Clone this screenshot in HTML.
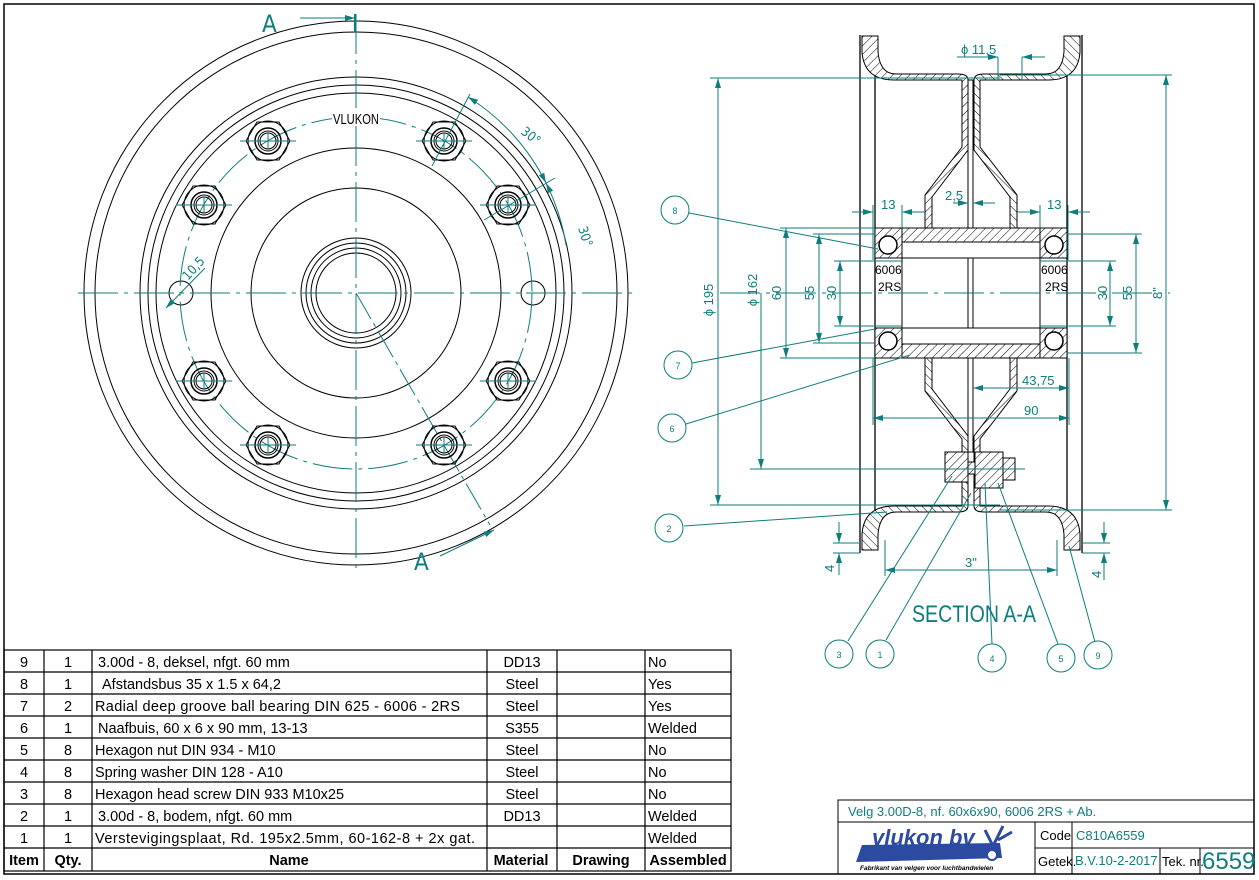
<!DOCTYPE html>
<html><head><meta charset="utf-8"><style>
html,body{margin:0;padding:0;background:#fff}
svg{display:block}
text{font-family:"Liberation Sans",sans-serif}
.t{fill:#0e7d7d;font-family:"DejaVu Sans Condensed","DejaVu Sans",sans-serif}
</style></head><body>
<svg width="1259" height="880" viewBox="0 0 1259 880" xmlns="http://www.w3.org/2000/svg">
<defs>
<pattern id="h" width="6" height="6" patternUnits="userSpaceOnUse" patternTransform="rotate(45)">
<rect width="6" height="6" fill="#fff"/><line x1="0" y1="0" x2="0" y2="6" stroke="#000" stroke-width="1"/></pattern>
<marker id="a" markerWidth="10" markerHeight="6" refX="10" refY="3" orient="auto-start-reverse" markerUnits="userSpaceOnUse"><path d="M0,0 L10,3 L0,6z" fill="#0e7d7d"/></marker>
<g id="bolt">
<polygon points="22,0 11,19 -11,19 -22,0 -11,-19 11,-19" fill="none" stroke="#000" stroke-width="1"/>
<circle r="20" fill="none" stroke="#000"/><circle r="13" fill="none" stroke="#000" stroke-width="1.5"/><circle r="10" fill="none" stroke="#000"/><circle r="8" fill="none" stroke="#000"/>
<line x1="-28" y1="0" x2="28" y2="0" stroke="#0e7d7d"/><line x1="0" y1="-8" x2="0" y2="8" stroke="#0e7d7d"/>
</g>
<g id="rimhalf">
<path d="M862 36 L862 52 Q864 80 894 80 L962 80 L962 147 L925 195 L925 228 L932 228 L932 197 L968 150 L968 80 Q968 74 958 74 L896 74 Q880 74 878 52 L878 36 Z" fill="url(#h)" stroke="#000" stroke-width="1"/>
</g>
</defs>
<rect x="4" y="4" width="1250" height="870" fill="none" stroke="#000" stroke-width="1.5"/>

<!-- FRONT VIEW -->
<g fill="none" stroke="#000" stroke-width="1">
<circle cx="356" cy="293" r="272"/><circle cx="356" cy="293" r="261"/>
<circle cx="356" cy="293" r="216"/><circle cx="356" cy="293" r="208"/><circle cx="356" cy="293" r="200"/>
<circle cx="356" cy="293" r="145"/><circle cx="356" cy="293" r="105"/>
<circle cx="356" cy="293" r="55"/><circle cx="356" cy="293" r="50"/><circle cx="356" cy="293" r="45"/><circle cx="356" cy="293" r="40"/>
<circle cx="181" cy="293" r="12"/><circle cx="533" cy="293" r="12"/>
</g>
<circle cx="356" cy="293" r="176" fill="none" stroke="#0e7d7d" stroke-dasharray="40,6,4,6"/>
<g stroke="#0e7d7d" stroke-width="1" stroke-dasharray="40,6,4,6">
<line x1="78" y1="293" x2="634" y2="293"/><line x1="356" y1="14" x2="356" y2="570"/>
</g>
<line x1="356" y1="293" x2="490" y2="525" stroke="#0e7d7d" stroke-dasharray="30,5,4,5"/>
<use href="#bolt" x="508" y="205"/><use href="#bolt" x="444" y="141"/><use href="#bolt" x="268" y="141"/><use href="#bolt" x="204" y="205"/>
<use href="#bolt" x="204" y="381"/><use href="#bolt" x="268" y="445"/><use href="#bolt" x="444" y="445"/><use href="#bolt" x="508" y="381"/>
<rect x="332" y="108" width="48" height="18" fill="#fff"/>
<text x="356" y="124" font-size="15" text-anchor="middle" font-family="DejaVu Sans Condensed,sans-serif" textLength="46" lengthAdjust="spacingAndGlyphs">VLUKON</text>
<path d="M468 97 A214 214 0 0 1 546 183" fill="none" stroke="#0e7d7d" marker-start="url(#a)" marker-end="url(#a)"/>
<path d="M546 183 A214 214 0 0 1 566 245" fill="none" stroke="#0e7d7d" marker-start="url(#a)"/>
<line x1="470" y1="94" x2="432" y2="166" stroke="#0e7d7d"/>
<line x1="555" y1="178" x2="484" y2="220" stroke="#0e7d7d"/>
<text class="t" x="520" y="133" font-size="13" transform="rotate(38 520 133)">30°</text>
<text class="t" x="578" y="228" font-size="13" transform="rotate(72 578 228)">30°</text>
<line x1="166" y1="308" x2="205" y2="268" stroke="#0e7d7d" marker-start="url(#a)"/>
<text class="t" x="188" y="281" font-size="13" transform="rotate(-48 188 281)">10,5</text>
<line x1="355" y1="14" x2="355" y2="32" stroke="#0e7d7d" stroke-width="2"/>
<line x1="300" y1="18" x2="355" y2="18" stroke="#0e7d7d" marker-end="url(#a)"/>
<text class="t" x="262" y="32" font-size="24">A</text>
<line x1="440" y1="556" x2="494" y2="530" stroke="#0e7d7d" marker-end="url(#a)"/>
<text class="t" x="414" y="570" font-size="24">A</text>

<!-- SECTION VIEW -->
<g stroke="#000" stroke-width="1.3" fill="none">
<line x1="860" y1="35" x2="860" y2="553"/><line x1="875" y1="60" x2="875" y2="530"/>
<line x1="1067" y1="60" x2="1067" y2="530"/><line x1="1082" y1="35" x2="1082" y2="553"/>
</g>
<use href="#rimhalf"/>
<use href="#rimhalf" transform="translate(1942 0) scale(-1 1)"/>
<use href="#rimhalf" transform="translate(0 586) scale(1 -1)"/>
<use href="#rimhalf" transform="translate(1942 586) scale(-1 -1)"/>
<rect x="968" y="80" width="5" height="372" fill="#fff" stroke="#000"/>
<rect x="902" y="228" width="138" height="14" fill="url(#h)" stroke="#000"/>
<rect x="902" y="344" width="138" height="14" fill="url(#h)" stroke="#000"/>
<rect x="902" y="242" width="138" height="16" fill="#fff" stroke="#000"/>
<rect x="902" y="328" width="138" height="16" fill="#fff" stroke="#000"/>
<line x1="902" y1="258" x2="902" y2="328" stroke="#000"/><line x1="1040" y1="258" x2="1040" y2="328" stroke="#000"/>
<g stroke="#000" fill="url(#h)">
<rect x="875" y="228" width="27" height="30"/><rect x="1040" y="228" width="27" height="30"/>
<rect x="875" y="328" width="27" height="30"/><rect x="1040" y="328" width="27" height="30"/>
</g>
<g fill="#fff" stroke="#000" stroke-width="1.5">
<circle cx="888" cy="245" r="9"/><circle cx="1054" cy="245" r="9"/><circle cx="888" cy="341" r="9"/><circle cx="1054" cy="341" r="9"/>
</g>
<text x="875" y="274" font-size="12" font-family="Liberation Serif,serif">6006</text>
<text x="878" y="291" font-size="12" font-family="Liberation Serif,serif">2RS</text>
<text x="1041" y="274" font-size="12" font-family="Liberation Serif,serif">6006</text>
<text x="1045" y="291" font-size="12" font-family="Liberation Serif,serif">2RS</text>
<g stroke="#000" fill="url(#h)">
<rect x="945" y="452" width="23" height="30"/><rect x="975" y="452" width="28" height="36"/><rect x="1003" y="458" width="12" height="22"/>
<rect x="968" y="462" width="7" height="12"/>
</g>
<line x1="720" y1="293" x2="1170" y2="293" stroke="#0e7d7d" stroke-dasharray="40,6,4,6"/>
<line x1="750" y1="469" x2="1025" y2="469" stroke="#0e7d7d"/>
<g stroke="#0e7d7d" fill="none">
<line x1="710" y1="78" x2="1000" y2="78"/><line x1="710" y1="505" x2="1000" y2="505"/>
<line x1="718" y1="78" x2="718" y2="505" marker-start="url(#a)" marker-end="url(#a)"/>
<line x1="761" y1="293" x2="761" y2="469" marker-end="url(#a)"/>
<line x1="780" y1="228" x2="875" y2="228"/><line x1="780" y1="358" x2="875" y2="358"/>
<line x1="786" y1="228" x2="786" y2="358" marker-start="url(#a)" marker-end="url(#a)"/>
<line x1="813" y1="234" x2="875" y2="234"/><line x1="813" y1="343" x2="875" y2="343"/>
<line x1="819" y1="234" x2="819" y2="343" marker-start="url(#a)" marker-end="url(#a)"/>
<line x1="834" y1="261" x2="902" y2="261"/><line x1="834" y1="326" x2="902" y2="326"/>
<line x1="840" y1="261" x2="840" y2="326" marker-start="url(#a)" marker-end="url(#a)"/>
<line x1="1067" y1="234" x2="1142" y2="234"/><line x1="1067" y1="353" x2="1142" y2="353"/>
<line x1="1136" y1="234" x2="1136" y2="353" marker-start="url(#a)" marker-end="url(#a)"/>
<line x1="1040" y1="261" x2="1116" y2="261"/><line x1="1040" y1="326" x2="1116" y2="326"/>
<line x1="1110" y1="261" x2="1110" y2="326" marker-start="url(#a)" marker-end="url(#a)"/>
<line x1="1000" y1="75" x2="1172" y2="75"/><line x1="1000" y1="510" x2="1172" y2="510"/>
<line x1="1166" y1="75" x2="1166" y2="510" marker-start="url(#a)" marker-end="url(#a)"/>
<line x1="873" y1="205" x2="873" y2="260"/><line x1="902" y1="205" x2="902" y2="228"/>
<line x1="852" y1="212" x2="873" y2="212" marker-end="url(#a)"/><line x1="925" y1="212" x2="902" y2="212" marker-end="url(#a)"/>
<line x1="1040" y1="205" x2="1040" y2="228"/><line x1="1068" y1="205" x2="1068" y2="260"/>
<line x1="1017" y1="212" x2="1040" y2="212" marker-end="url(#a)"/><line x1="1090" y1="212" x2="1068" y2="212" marker-end="url(#a)"/>
<line x1="953" y1="203" x2="968" y2="203" marker-end="url(#a)"/><line x1="995" y1="203" x2="973" y2="203" marker-end="url(#a)"/>
<line x1="957" y1="57" x2="998" y2="57"/><line x1="998" y1="57" x2="998" y2="80"/><line x1="1022" y1="57" x2="1022" y2="80"/>
<line x1="985" y1="57" x2="998" y2="57" marker-end="url(#a)"/><line x1="1045" y1="57" x2="1022" y2="57" marker-end="url(#a)"/>
<line x1="973" y1="388" x2="1069" y2="388" marker-start="url(#a)" marker-end="url(#a)"/>
<line x1="873" y1="358" x2="873" y2="425"/><line x1="1069" y1="358" x2="1069" y2="425"/>
<line x1="873" y1="418" x2="1069" y2="418" marker-start="url(#a)" marker-end="url(#a)"/>
<line x1="885" y1="540" x2="885" y2="576"/><line x1="1057" y1="540" x2="1057" y2="576"/>
<line x1="885" y1="570" x2="1057" y2="570" marker-start="url(#a)" marker-end="url(#a)"/>
<line x1="833" y1="543" x2="860" y2="543"/><line x1="833" y1="553" x2="860" y2="553"/>
<line x1="839" y1="522" x2="839" y2="543" marker-end="url(#a)"/><line x1="839" y1="575" x2="839" y2="553" marker-end="url(#a)"/>
<line x1="1082" y1="543" x2="1110" y2="543"/><line x1="1082" y1="553" x2="1110" y2="553"/>
<line x1="1104" y1="522" x2="1104" y2="543" marker-end="url(#a)"/><line x1="1104" y1="580" x2="1104" y2="553" marker-end="url(#a)"/>
</g>
<g class="t" font-size="13">
<text x="713" y="300" transform="rotate(-90 713 300)" text-anchor="middle">ϕ 195</text>
<text x="757" y="290" transform="rotate(-90 757 290)" text-anchor="middle">ϕ 162</text>
<text x="781" y="293" transform="rotate(-90 781 293)" text-anchor="middle">60</text>
<text x="814" y="293" transform="rotate(-90 814 293)" text-anchor="middle">55</text>
<text x="836" y="293" transform="rotate(-90 836 293)" text-anchor="middle">30</text>
<text x="1107" y="293" transform="rotate(-90 1107 293)" text-anchor="middle">30</text>
<text x="1132" y="293" transform="rotate(-90 1132 293)" text-anchor="middle">55</text>
<text x="1162" y="293" transform="rotate(-90 1162 293)" text-anchor="middle">8"</text>
<text x="881" y="209">13</text><text x="1047" y="209">13</text><text x="945" y="200">2,5</text>
<text x="961" y="54">ϕ 11,5</text><text x="1022" y="385">43,75</text><text x="1024" y="415">90</text>
<text x="965" y="567">3"</text>
<text x="834" y="572" transform="rotate(-90 834 572)">4</text><text x="1101" y="578" transform="rotate(-90 1101 578)">4</text>
</g>
<text class="t" x="912" y="622" font-size="24" textLength="124" lengthAdjust="spacingAndGlyphs" font-family="Liberation Sans,sans-serif" style="font-family:'Liberation Sans',sans-serif">SECTION A-A</text>
<g stroke="#0e7d7d" fill="none">
<line x1="689" y1="213" x2="878" y2="249"/><circle cx="675" cy="210" r="14" fill="#fff"/>
<line x1="692" y1="363" x2="875" y2="329"/><circle cx="678" cy="365" r="14" fill="#fff"/>
<line x1="686" y1="424" x2="910" y2="355"/><circle cx="672" cy="428" r="14" fill="#fff"/>
<line x1="684" y1="526" x2="887" y2="512"/><circle cx="669" cy="528" r="14" fill="#fff"/>
<line x1="848" y1="641" x2="952" y2="476"/><circle cx="839" cy="654" r="14" fill="#fff"/>
<line x1="886" y1="640" x2="971" y2="493"/><circle cx="880" cy="654" r="14" fill="#fff"/>
<line x1="992" y1="644" x2="985" y2="483"/><circle cx="992" cy="658" r="14" fill="#fff"/>
<line x1="1058" y1="644" x2="998" y2="483"/><circle cx="1061" cy="658" r="14" fill="#fff"/>
<line x1="1095" y1="642" x2="1069" y2="546"/><circle cx="1098" cy="655" r="14" fill="#fff"/>
</g>
<g class="t" font-size="9" text-anchor="middle">
<text x="675" y="214">8</text><text x="678" y="369">7</text><text x="672" y="432">6</text><text x="669" y="532">2</text>
<text x="839" y="658">3</text><text x="880" y="658">1</text><text x="992" y="662">4</text><text x="1061" y="662">5</text><text x="1098" y="659">9</text>
</g>

<g stroke="#000" stroke-width="1.2" fill="none">
<rect x="4" y="650" width="727" height="221"/>
<line x1="44" y1="650" x2="44" y2="871"/><line x1="92" y1="650" x2="92" y2="871"/>
<line x1="487" y1="650" x2="487" y2="871"/><line x1="557" y1="650" x2="557" y2="871"/><line x1="645" y1="650" x2="645" y2="871"/>
<line x1="4" y1="672" x2="731" y2="672"/><line x1="4" y1="694" x2="731" y2="694"/><line x1="4" y1="716" x2="731" y2="716"/>
<line x1="4" y1="738" x2="731" y2="738"/><line x1="4" y1="760" x2="731" y2="760"/><line x1="4" y1="782" x2="731" y2="782"/>
<line x1="4" y1="804" x2="731" y2="804"/><line x1="4" y1="826" x2="731" y2="826"/><line x1="4" y1="848" x2="731" y2="848"/>
</g>
<g font-size="14.5">
<g text-anchor="middle">
<text x="24" y="667">9</text><text x="68" y="667">1</text><text x="522" y="667">DD13</text>
<text x="24" y="689">8</text><text x="68" y="689">1</text><text x="522" y="689">Steel</text>
<text x="24" y="711">7</text><text x="68" y="711">2</text><text x="522" y="711">Steel</text>
<text x="24" y="733">6</text><text x="68" y="733">1</text><text x="522" y="733">S355</text>
<text x="24" y="755">5</text><text x="68" y="755">8</text><text x="522" y="755">Steel</text>
<text x="24" y="777">4</text><text x="68" y="777">8</text><text x="522" y="777">Steel</text>
<text x="24" y="799">3</text><text x="68" y="799">8</text><text x="522" y="799">Steel</text>
<text x="24" y="821">2</text><text x="68" y="821">1</text><text x="522" y="821">DD13</text>
<text x="24" y="843">1</text><text x="68" y="843">1</text>
<g font-weight="bold"><text x="24" y="865">Item</text><text x="68" y="865">Qty.</text><text x="289" y="865">Name</text><text x="521" y="865">Material</text><text x="601" y="865">Drawing</text><text x="688" y="865">Assembled</text></g>
</g>
<text x="98" y="667">3.00d - 8,  deksel,  nfgt. 60 mm</text>
<text x="102" y="689">Afstandsbus 35 x 1.5 x 64,2</text>
<text x="95" y="711" textLength="365" lengthAdjust="spacing">Radial deep groove ball bearing DIN 625 - 6006 - 2RS</text>
<text x="98" y="733">Naafbuis,   60 x 6 x 90 mm,     13-13</text>
<text x="95" y="755">Hexagon nut DIN 934 - M10</text>
<text x="95" y="777">Spring washer DIN 128 - A10</text>
<text x="95" y="799">Hexagon head screw DIN 933 M10x25</text>
<text x="98" y="821">3.00d - 8, bodem,  nfgt. 60 mm</text>
<text x="95" y="843" textLength="380" lengthAdjust="spacing">Verstevigingsplaat,  Rd. 195x2.5mm,  60-162-8 + 2x gat.</text>
<text x="648" y="667">No</text><text x="648" y="689">Yes</text><text x="648" y="711">Yes</text><text x="648" y="733">Welded</text>
<text x="648" y="755">No</text><text x="648" y="777">No</text><text x="648" y="799">No</text><text x="648" y="821">Welded</text><text x="648" y="843">Welded</text>
</g>

<g stroke="#000" stroke-width="1" fill="none">
<rect x="838" y="800" width="416" height="74"/>
<line x1="838" y1="822" x2="1254" y2="822"/>
<line x1="1035" y1="822" x2="1035" y2="874"/><line x1="1072" y1="822" x2="1072" y2="874"/>
<line x1="1035" y1="848" x2="1254" y2="848"/>
<line x1="1160" y1="848" x2="1160" y2="874"/><line x1="1200" y1="848" x2="1200" y2="874"/>
</g>
<g class="t" font-size="13">
<text x="848" y="816">Velg 3.00D-8, nf. 60x6x90,  6006 2RS + Ab.</text>
<text x="1040" y="840" style="fill:#000">Code</text><text x="1076" y="840">C810A6559</text>
<text x="1038" y="866" style="fill:#000">Getek.</text><text x="1075" y="865">B.V.10-2-2017</text>
<text x="1162" y="866" style="fill:#000">Tek. nr.</text><text x="1202" y="869" font-size="24">6559</text>
</g>
<polygon points="862,845 1000,843 1002,858 856,862" fill="#2b4aa0"/>
<circle cx="992" cy="855" r="5" fill="#fff" stroke="#2b4aa0" stroke-width="2"/>
<text x="872" y="845" font-size="22" font-weight="bold" font-style="italic" fill="#2b4aa0">vlukon bv</text>
<path d="M985 830 L993 846 L1003 826 M998 840 L1012 832" stroke="#2b4aa0" stroke-width="3" fill="none"/>
<text x="860" y="870" font-size="6.5" font-style="italic" font-weight="bold" fill="#000">Fabrikant van velgen voor luchtbandwielen</text>
</svg>
</body></html>
